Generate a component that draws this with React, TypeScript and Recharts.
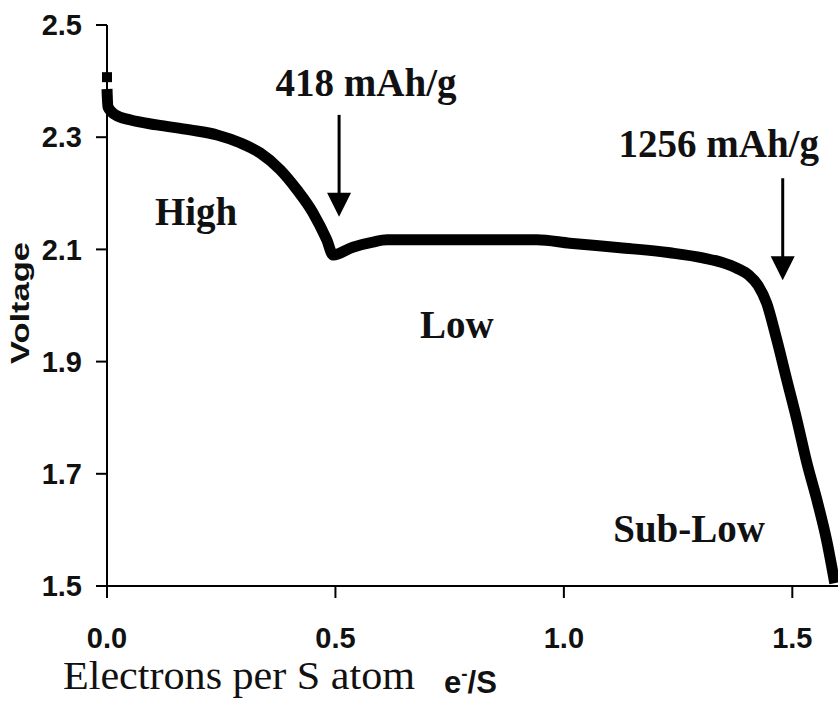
import {
  ComposedChart,
  Line,
  Scatter,
  XAxis,
  YAxis,
  ReferenceDot,
} from 'recharts'

// electrons per S atom vs cell voltage
const electrons = [
  0, 0.002, 0.018, 0.05, 0.109, 0.182, 0.241, 0.291, 0.335, 0.379, 0.416,
  0.451, 0.481, 0.495, 0.538, 0.582, 0.613, 0.757, 0.941, 1.013, 1.123,
  1.232, 1.304, 1.345, 1.38, 1.405, 1.425, 1.444, 1.466, 1.488, 1.51, 1.532,
  1.554, 1.575, 1.593,
]
const voltage = [
  2.386, 2.354, 2.34, 2.331, 2.322, 2.313, 2.304, 2.29, 2.272, 2.242, 2.206,
  2.165, 2.117, 2.09, 2.104, 2.113, 2.117, 2.117, 2.117, 2.111, 2.103,
  2.094, 2.085, 2.077, 2.066, 2.054, 2.036, 2.004, 1.939, 1.867, 1.796, 1.719,
  1.653, 1.582, 1.505,
]
const startPoint = [{ x: 0, v: 2.407 }]

const xTicks = [0, 0.5, 1.0, 1.5]
const yTicks = [1.5, 1.7, 1.9, 2.1, 2.3, 2.5]

const regionLabels = [
  { text: '418 mAh/g', x: 0.567, y: 2.373 },
  { text: '1256 mAh/g', x: 1.339, y: 2.265 },
  { text: 'High', x: 0.195, y: 2.143 },
  { text: 'Low', x: 0.766, y: 1.942 },
  { text: 'Sub-Low', x: 1.274, y: 1.578 },
]
// arrow tips
const arrows = [
  { x: 0.508, y: 2.158 },
  { x: 1.479, y: 2.045 },
]

const data = electrons.map((x, i) => ({ x, v: voltage[i] }))

const sans = '"Liberation Sans", Arial, sans-serif'
const serif = '"Liberation Serif", "Times New Roman", serif'

const tickStyle = { fontFamily: sans, fontWeight: 700, fontSize: 29, fill: '#111' }

function Arrow(props: any) {
  const { cx, cy } = props
  return (
    <g>
      <line x1={cx} y1={cy - 102} x2={cx} y2={cy - 20} stroke="#000" strokeWidth={3} />
      <polygon points={`${cx - 12},${cy - 24} ${cx + 12},${cy - 24} ${cx},${cy}`} fill="#000" />
    </g>
  )
}

function SquareMark(props: any) {
  const { cx, cy } = props
  return <rect x={cx - 5} y={cy - 5} width={10} height={10} fill="#000" />
}

function XLabel(props: any) {
  const { x, y } = props.viewBox
  return (
    <g>
      <text
        x={x - 44}
        y={y + 103}
        fontFamily={serif}
        fontSize={41}
        textLength={352}
        lengthAdjust="spacingAndGlyphs"
        fill="#111"
      >
        Electrons per S atom
      </text>
      <text x={x + 337} y={y + 107} fontFamily={sans} fontWeight={700} fontSize={31} fill="#111">
        e<tspan dy={-13} fontSize={19}>-</tspan>
        <tspan dy={13}>/S</tspan>
      </text>
    </g>
  )
}

function YLabel() {
  return (
    <text
      x={29}
      y={303}
      transform="rotate(-90 29 303)"
      textAnchor="middle"
      fontFamily={sans}
      fontWeight={700}
      fontSize={25}
      textLength={122}
      lengthAdjust="spacingAndGlyphs"
      fill="#111"
    >
      Voltage
    </text>
  )
}

export default function App() {
  return (
    <div style={{ position: 'absolute', left: 0, top: 0, background: '#fff' }}>
      <ComposedChart
        width={838}
        height={702}
        margin={{ top: 25, right: 0, left: 0, bottom: 0 }}
      >
        <XAxis
          dataKey="x"
          type="number"
          domain={[0, 1.6]}
          ticks={xTicks}
          tickFormatter={(t: number) => t.toFixed(1)}
          tick={tickStyle}
          tickSize={12}
          tickMargin={29}
          height={116}
          axisLine={{ stroke: '#000', strokeWidth: 2 }}
          tickLine={{ stroke: '#000', strokeWidth: 2 }}
          label={<XLabel />}
        />
        <YAxis
          dataKey="v"
          type="number"
          domain={[1.5, 2.5]}
          ticks={yTicks}
          tickFormatter={(t: number) => t.toFixed(1)}
          tick={tickStyle}
          tickSize={11}
          tickMargin={14}
          width={107}
          axisLine={{ stroke: '#000', strokeWidth: 2 }}
          tickLine={{ stroke: '#000', strokeWidth: 2 }}
          label={<YLabel />}
        />
        <Line
          data={data}
          dataKey="v"
          type="monotone"
          stroke="#000"
          strokeWidth={11}
          strokeLinejoin="round"
          dot={false}
          isAnimationActive={false}
        />
        <Scatter
          data={startPoint}
          dataKey="v"
          shape={<SquareMark />}
          fill="#000"
          isAnimationActive={false}
        />
        {arrows.map((a, i) => (
          <ReferenceDot key={`arrow-${i}`} x={a.x} y={a.y} r={0} shape={<Arrow />} />
        ))}
        {regionLabels.map((l) => (
          <ReferenceDot
            key={l.text}
            x={l.x}
            y={l.y}
            r={0}
            shape={(p: any) => (
              <text
                x={p.cx}
                y={p.cy}
                textAnchor="middle"
                fontFamily={serif}
                fontWeight={700}
                fontSize={39}
                fill="#111"
              >
                {l.text}
              </text>
            )}
          />
        ))}
      </ComposedChart>
    </div>
  )
}
